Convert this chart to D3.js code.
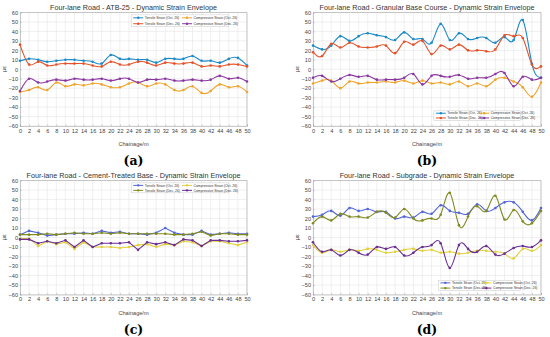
<!DOCTYPE html>
<html><head><meta charset="utf-8">
<script src="https://cdn.jsdelivr.net/npm/d3@7"></script>
<style>body{margin:0;background:#fff}svg{display:block}</style>
</head><body>
<script>
const chainage = [0,2,4,6,8,10,12,14,16,18,20,22,24,26,28,30,32,34,36,38,40,42,44,46,48,50];
const yTicks = [-60,-50,-40,-30,-20,-10,0,10,20,30,40,50,60];
const legendLabels = ["Tensile Strain (Oct. 26)","Compressive Strain (Oct. 26)","Tensile Strain (Dec. 26)","Compressive Strain (Dec. 26)"];

// (a) ATB-25
const atbTensileOct = [9,11,10,8,9,10,10,9,8,6,15,11,11,10,10,7,11,11,11,14,9,9,7,11,12,4];
const atbTensileDec = [26,5,8,4,5,6,6,6,4,3,8,5,5,8,7,4,7,6,6,7,3,4,3,5,5,3];
const atbCompOct = [-24,-22,-19,-22,-14,-18,-16,-17,-15,-16,-19,-19,-15,-14,-18,-15,-16,-22,-22,-18,-25,-23,-16,-19,-18,-24];
const atbCompDec = [-23,-10,-14,-13,-11,-12,-10,-11,-11,-10,-12,-10,-10,-14,-11,-11,-10,-12,-12,-11,-12,-11,-7,-10,-9,-13];

// (b) Granular Base Course
const gbcTensileOct = [25,21,25,35,30,35,38,36,34,31,39,32,32,28,48,31,38,32,33,33,28,34,31,52,6,-9];
const gbcTensileDec = [18,14,27,23,28,24,23,24,25,17,29,26,30,16,25,21,26,20,20,19,21,36,35,33,5,3];
const gbcCompOct = [-15,-12,-12,-20,-13,-15,-14,-14,-13,-14,-12,-15,-12,-15,-14,-16,-13,-18,-15,-18,-11,-9,-13,-19,-29,-14];
const gbcCompDec = [-9,-7,-13,-10,-6,-8,-7,-11,-11,-11,-9,-5,-16,-7,-7,-8,-6,-10,-9,-9,-5,-4,-18,-8,-11,-9];

// (c) Cement-Treated Base
const ctbTensileOct = [3,7,5,2,3,4,4,5,4,7,5,6,4,4,3,5,10,5,3,3,7,3,4,5,4,4];
const ctbTensileDec = [3,3,3,4,3,4,5,4,4,5,4,5,4,4,4,4,4,3,3,4,6,2,4,4,3,3];
const ctbCompOct = [-1,-1,-9,-4,-7,-5,-12,-5,-10,-10,-10,-11,-10,-8,-7,-10,-7,-8,-4,-5,-9,-4,-4,-6,-8,-5];
const ctbCompDec = [-2,-2,-6,-4,-6,-3,-10,-3,-10,-6,-6,-6,-5,-13,-5,-7,-5,-8,-2,-3,-9,-3,-3,-4,-4,-3];

// (d) Subgrade
const sgTensileOct = [22,24,28,23,31,28,30,27,27,20,22,21,27,25,34,28,26,25,35,28,31,37,37,27,18,31];
const sgTensileDec = [15,22,18,25,22,22,21,27,26,21,30,20,18,20,24,47,13,22,33,28,44,19,29,17,15,28];
const sgCompOct = [-8,-16,-13,-15,-13,-14,-12,-13,-16,-15,-13,-12,-14,-13,-16,-15,-17,-16,-14,-14,-15,-17,-22,-12,-14,-8];
const sgCompDec = [-5,-15,-13,-19,-13,-16,-18,-10,-12,-10,-19,-16,-10,-8,-6,-32,-8,-12,-15,-9,-18,-17,-11,-9,-10,-3];

const titles = [
  "Four-lane Road - ATB-25 - Dynamic Strain Envelope",
  "Four-lane Road - Granular Base Course - Dynamic Strain Envelope",
  "Four-lane Road - Cement-Treated Base - Dynamic Strain Envelope",
  "Four-lane Road - Subgrade - Dynamic Strain Envelope"
];
const panelLabels = ["(a)","(b)","(c)","(d)"];

const colorsTop = ["#1b8ac6","#f0a32a","#e4522b","#8b37a0"];   // TO, CO, TD, CD
const colorsBottom = ["#5165d8","#e2d03a","#808a1f","#6c2e90"];

const panels = [
  {x0:20, x1:247, y0:12.5, y1:126, series:[atbTensileOct,atbCompOct,atbTensileDec,atbCompDec], colors:colorsTop, curve:d3.curveNatural, legend:{fx0:0.49, fx1:0.92, v0:57.5, v1:45}},
  {x0:313, x1:541, y0:12.5, y1:126, series:[gbcTensileOct,gbcCompOct,gbcTensileDec,gbcCompDec], colors:colorsTop, curve:d3.curveNatural, legend:{fx0:0.53, fx1:0.91, v0:-44, v1:-54}},
  {x0:20, x1:247, y0:180.5, y1:294.5, series:[ctbTensileOct,ctbCompOct,ctbTensileDec,ctbCompDec], colors:colorsBottom, curve:d3.curveLinear, legend:{fx0:0.49, fx1:0.92, v0:57.5, v1:47}},
  {x0:313, x1:541, y0:180.5, y1:294.5, series:[sgTensileOct,sgCompOct,sgTensileDec,sgCompDec], colors:colorsBottom, curve:d3.curveNatural, legend:{fx0:0.55, fx1:0.91, v0:-45, v1:-56}}
];

const W = 550, H = 337;
const svg = d3.select("body").append("svg").attr("width",W).attr("height",H)
  .style("font-family","'Liberation Sans', Arial, sans-serif");

panels.forEach((p,i) => {
  const g = svg.append("g");
  const x = d3.scaleLinear().domain([0,50]).range([p.x0,p.x1]);
  const y = d3.scaleLinear().domain([-60,60]).range([p.y1,p.y0]);

  // grid
  g.append("g").selectAll("line").data(chainage).join("line")
    .attr("x1",d=>x(d)).attr("x2",d=>x(d)).attr("y1",p.y0).attr("y2",p.y1)
    .attr("stroke","#e6e6e6").attr("stroke-width",0.6);
  g.append("g").selectAll("line").data(yTicks).join("line")
    .attr("x1",p.x0).attr("x2",p.x1).attr("y1",d=>y(d)).attr("y2",d=>y(d))
    .attr("stroke","#e6e6e6").attr("stroke-width",0.6);

  // axes
  const xa = g.append("g").attr("transform",`translate(0,${p.y1})`)
    .call(d3.axisBottom(x).tickValues(chainage).tickSize(-1.5).tickPadding(3));
  const ya = g.append("g").attr("transform",`translate(${p.x0},0)`)
    .call(d3.axisLeft(y).tickValues(yTicks).tickSize(-1.5).tickPadding(2));
  [xa,ya].forEach(a=>{
    a.select(".domain").attr("stroke","#a8a8a8").attr("stroke-width",0.6);
    a.selectAll(".tick line").attr("stroke","#999").attr("stroke-width",0.5);
    a.selectAll(".tick text").attr("fill","#444").style("font-size","5.6px").style("font-family","'Liberation Sans', Arial, sans-serif");
  });
  // box top/right
  g.append("line").attr("x1",p.x0).attr("x2",p.x1).attr("y1",p.y0).attr("y2",p.y0).attr("stroke","#a8a8a8").attr("stroke-width",0.6);
  g.append("line").attr("x1",p.x1).attr("x2",p.x1).attr("y1",p.y0).attr("y2",p.y1).attr("stroke","#a8a8a8").attr("stroke-width",0.6);

  // series
  const line = d3.line().x((d,k)=>x(chainage[k])).y(d=>y(d)).curve(p.curve);
  p.series.forEach((s,k)=>{
    g.append("path").datum(s).attr("d",line).attr("fill","none")
      .attr("stroke",p.colors[k]).attr("stroke-width",1.1);
    g.append("g").selectAll("circle").data(s).join("circle")
      .attr("cx",(d,j)=>x(chainage[j])).attr("cy",d=>y(d)).attr("r",1.3)
      .attr("fill",p.colors[k]);
  });

  // title
  g.append("text").attr("x",(p.x0+p.x1)/2).attr("y",p.y0-3).attr("text-anchor","middle")
    .attr("fill","#333").style("font-size","7.2px").text(titles[i]);
  // y label
  g.append("text").attr("transform",`translate(${p.x0-14},${(p.y0+p.y1)/2}) rotate(-90)`)
    .attr("text-anchor","middle").attr("fill","#333").style("font-size","6px").text("με");
  // x label
  g.append("text").attr("x",(p.x0+p.x1)/2).attr("y",p.y1+20).attr("text-anchor","middle")
    .attr("fill","#444").style("font-size","5.6px").text("Chainage/m");
  // panel label
  g.append("text").attr("x",(p.x0+p.x1)/2).attr("y",p.y1+39).attr("text-anchor","middle")
    .attr("fill","#000").style("font-size","12.5px").style("font-weight","bold")
    .style("font-family","'DejaVu Serif', 'Liberation Serif', serif").text(panelLabels[i]);

  // legend
  const L = p.legend;
  const lx0 = p.x0 + L.fx0*(p.x1-p.x0), lx1 = p.x0 + L.fx1*(p.x1-p.x0);
  const ly0 = y(L.v0), ly1 = y(L.v1);
  g.append("rect").attr("x",lx0).attr("y",ly0).attr("width",lx1-lx0).attr("height",ly1-ly0)
    .attr("fill","#fff").attr("stroke","#c8c8c8").attr("stroke-width",0.5);
  const colW = (lx1-lx0)/2, rowH = (ly1-ly0)/2;
  legendLabels.forEach((lab,k)=>{
    const col = k%2, row = Math.floor(k/2);
    const cx = lx0 + col*colW + 2, cy = ly0 + rowH*(row+0.5);
    g.append("line").attr("x1",cx).attr("x2",cx+10).attr("y1",cy).attr("y2",cy)
      .attr("stroke",p.colors[k]).attr("stroke-width",1);
    g.append("circle").attr("cx",cx+5).attr("cy",cy).attr("r",1.2).attr("fill",p.colors[k]);
    g.append("text").attr("x",cx+11.5).attr("y",cy+1.2).attr("fill","#333")
      .style("font-size","3.4px").text(lab);
  });
});
</script>
</body></html>
